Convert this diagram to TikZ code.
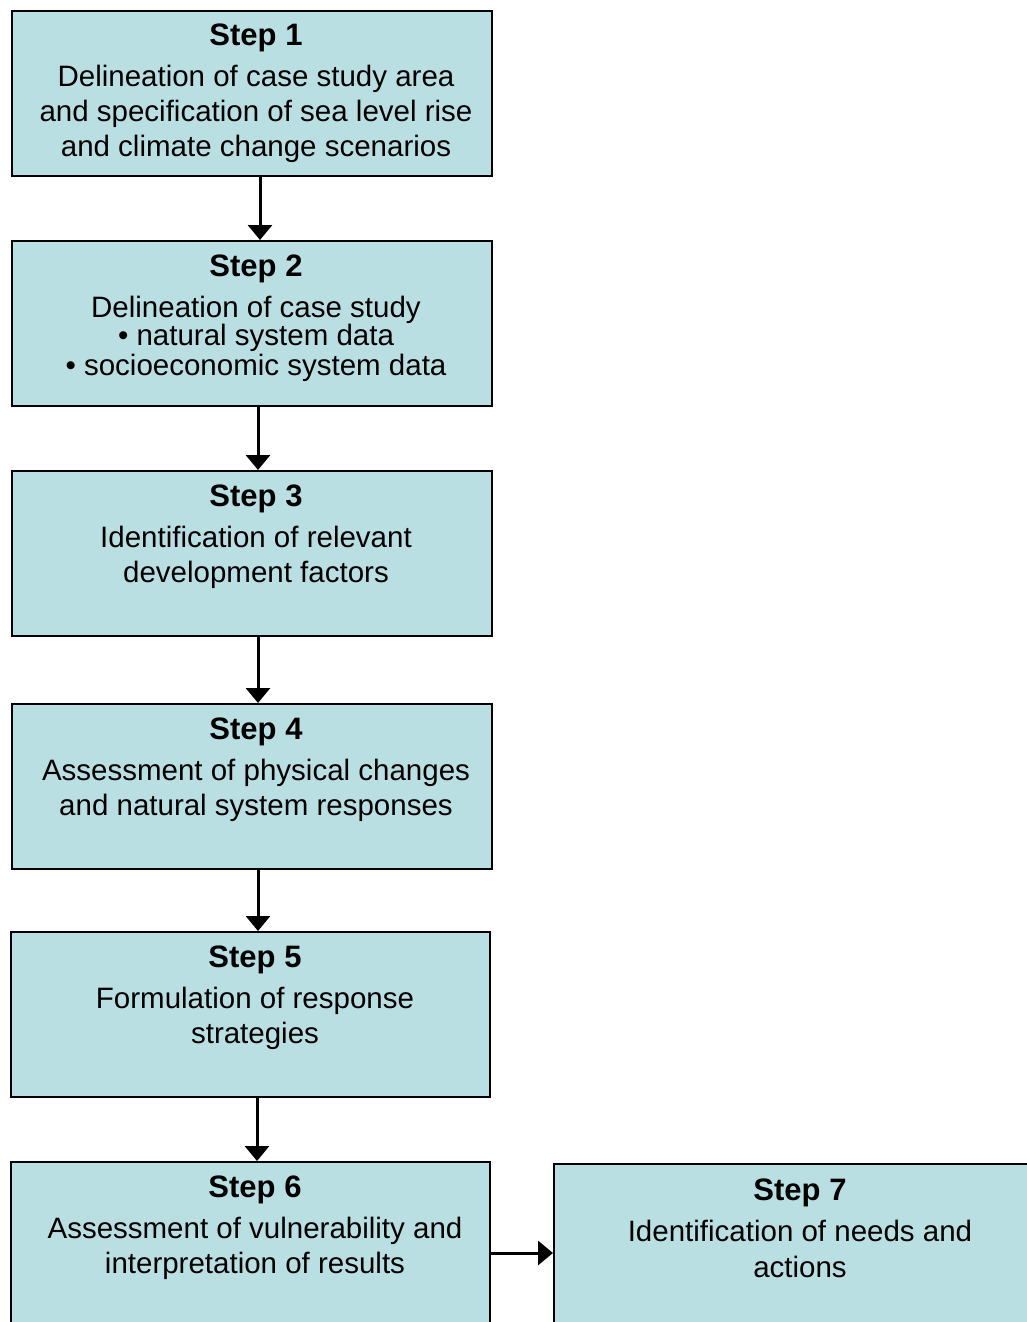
\documentclass[tikz,border=0pt]{standalone}
\usepackage{fontspec}
\setmainfont{Liberation Sans}
\usetikzlibrary{arrows.meta}
\definecolor{boxfill}{RGB}{185,223,227}

\begin{document}
\begin{tikzpicture}[x=1pt,y=-1pt,
  stepbox/.style={draw=black, line width=2pt, fill=boxfill, minimum height=165pt,
    inner sep=0pt, anchor=north west},
  steptitle/.style={anchor=base, inner sep=0pt, font=\fontsize{31}{35}\selectfont\bfseries},
  steptext/.style={anchor=base, inner sep=0pt, font=\fontsize{29.5}{35}\selectfont},
  flow/.style={line width=3pt, -{Triangle[length=15pt,width=24pt]}}]

\useasboundingbox (0,0) rectangle (1026,1322);
\fill[white] (0,0) rectangle (1026,1322);

% boxes
\node[stepbox, minimum width=480pt] (s1) at (11,10) {};
\node[stepbox, minimum width=480pt] (s2) at (11,240) {};
\node[stepbox, minimum width=480pt] (s3) at (11,470) {};
\node[stepbox, minimum width=480pt] (s4) at (11,703) {};
\node[stepbox, minimum width=479pt] (s5) at (10,931) {};
\node[stepbox, minimum width=479pt] (s6) at (10,1161) {};
\node[stepbox, minimum width=494pt] (s7) at (553,1163) {};

% step 1
\node[steptitle] (t1) at (256,46) {Step 1};
\node[steptext] (t1a) at (256,86) {Delineation of case study area};
\node[steptext] (t1b) at (256,121) {and specification of sea level rise};
\node[steptext] (t1c) at (256,156) {and climate change scenarios};

% step 2
\node[steptitle] (t2) at (256,276) {Step 2};
\node[steptext] (t2a) at (256,317) {Delineation of case study};
\node[steptext] (t2b) at (256,345) {• natural system data};
\node[steptext] (t2c) at (256,375) {• socioeconomic system data};

% step 3
\node[steptitle] (t3) at (256,506) {Step 3};
\node[steptext] (t3a) at (256,547) {Identification of relevant};
\node[steptext] (t3b) at (256,582) {development factors};

% step 4
\node[steptitle] (t4) at (256,739) {Step 4};
\node[steptext] (t4a) at (256,780) {Assessment of physical changes};
\node[steptext] (t4b) at (256,815) {and natural system responses};

% step 5
\node[steptitle] (t5) at (255,967) {Step 5};
\node[steptext] (t5a) at (255,1008) {Formulation of response};
\node[steptext] (t5b) at (255,1043) {strategies};

% step 6
\node[steptitle] (t6) at (255,1197) {Step 6};
\node[steptext] (t6a) at (255,1238) {Assessment of vulnerability and};
\node[steptext] (t6b) at (255,1273) {interpretation of results};

% step 7
\node[steptitle] (t7) at (800,1200) {Step 7};
\node[steptext] (t7a) at (800,1241) {Identification of needs and};
\node[steptext] (t7b) at (800,1277) {actions};

% connectors
\draw[flow] ([xshift=8pt]s1.south) -- ([xshift=8pt]s2.north);
\draw[flow] ([xshift=6pt]s2.south) -- ([xshift=6pt]s3.north);
\draw[flow] ([xshift=6pt]s3.south) -- ([xshift=6pt]s4.north);
\draw[flow] ([xshift=6pt]s4.south) -- ([xshift=7.5pt]s5.north);
\draw[flow] ([xshift=6.5pt]s5.south) -- ([xshift=6.5pt]s6.north);
\coordinate (a67) at ([yshift=-8.5pt]s6.east);
\draw[flow] (a67) -- (a67 -| s7.west);
\end{tikzpicture}
\end{document}
